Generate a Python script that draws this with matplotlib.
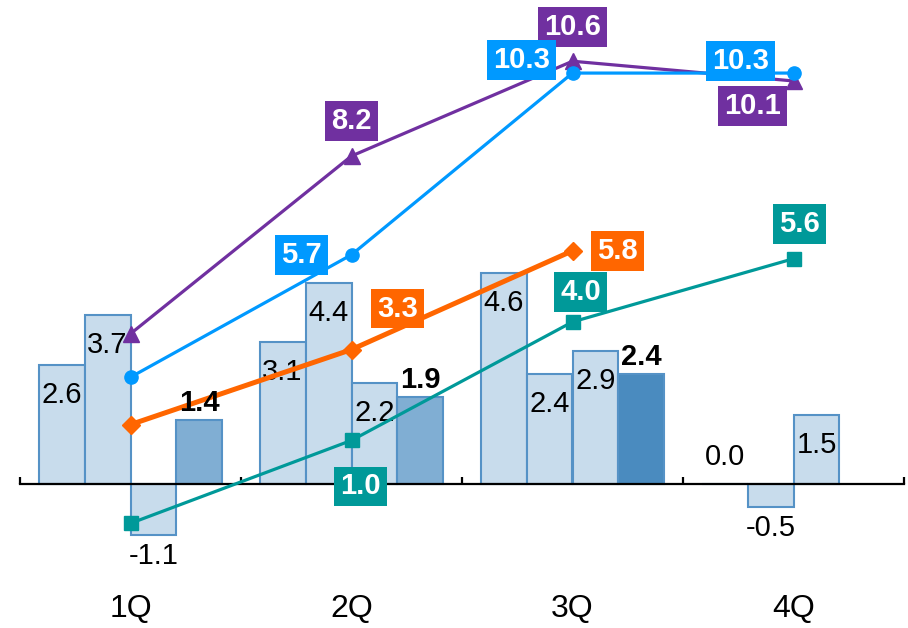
import numpy as np
import matplotlib.pyplot as plt

plt.rcParams['font.family'] = ['Liberation Sans', 'DejaVu Sans']

quarters = ['1Q', '2Q', '3Q', '4Q']

# quarterly values, four bars per quarter (nan = no bar)
bar_a = [2.6, 3.1, 4.6, 0.0]
bar_b = [3.7, 4.4, 2.4, -0.5]
bar_c = [-1.1, 2.2, 2.9, 1.5]
bar_d = [1.4, 1.9, 2.4, np.nan]

# running totals of the same series (secondary scale)
cum_a = [2.6, 5.7, 10.3, 10.3]
cum_b = [3.7, 8.2, 10.6, 10.1]
cum_c = [-1.1, 1.0, 4.0, 5.6]
cum_d = [1.4, 3.3, 5.8, np.nan]

light = '#C8DCEC'
edge = '#5592C6'
dark = ['#80AED3', '#80AED3', '#4A8BBF', '#4A8BBF']

fig = plt.figure(figsize=(9.08, 6.28), dpi=100)
ax = fig.add_axes([20 / 908, 0, 884 / 908, 1])
ax.set_xlim(-0.5, 3.5)
ax.set_ylim(-3.14, 10.57)

x = np.arange(len(quarters))
w = 0.208
offs = (np.arange(4) - 1.5) * w

for k, vals in enumerate([bar_a, bar_b, bar_c]):
    ax.bar(x + offs[k], vals, w, color=light, edgecolor=edge, linewidth=1.5, zorder=2)
ax.bar(x + offs[3], bar_d, w, color=dark, edgecolor=edge, linewidth=1.5, zorder=2)

# pixels per data unit on the bar scale
px = ax.transData.transform((0, 1))[1] - ax.transData.transform((0, 0))[1]

for k, vals in enumerate([bar_a, bar_b, bar_c]):
    for i, v in enumerate(vals):
        if v >= 0:
            dy = max(v * px - 30, 27)
            ax.annotate(f'{v:.1f}', (x[i] + offs[k], 0), xytext=(0, dy),
                        textcoords='offset pixels', ha='center', va='center',
                        fontsize=21, zorder=3)
        else:
            ax.annotate(f'{v:.1f}', (x[i] + offs[k], v), xytext=(0, -21),
                        textcoords='offset pixels', ha='center', va='center',
                        fontsize=21, zorder=3)

# axis line with group dividers
for s in ['top', 'right', 'left']:
    ax.spines[s].set_visible(False)
ax.spines['bottom'].set_position(('data', 0))
ax.spines['bottom'].set_linewidth(1.6)
ax.set_xticks(np.arange(-0.5, 4, 1))
ax.tick_params(axis='x', direction='in', length=5, width=1.6, labelbottom=False)
ax.set_yticks([])
for i, q in enumerate(quarters):
    ax.text(x[i], 0.030, q, transform=ax.get_xaxis_transform(),
            ha='center', va='center', fontsize=23)

# cumulative lines on their own scale
ax2 = ax.twinx()
ax2.set_ylim(-3.75, 12.15)
ax2.axis('off')

lines = [
    (cum_b, '#7030A0', '^', 12, 2.3, [None, (0, 35), (0, 34), (-41, -25)]),
    (cum_a, '#0099FF', 'o', 9.5, 2.3, [None, (-50, 0), (-51, 13), (-53, 12)]),
    (cum_d, '#FF6600', 'D', 9.5, 3.6, [None, (46, 41), (45, 0), None]),
    (cum_c, '#009999', 's', 10, 2.3, [None, (9, -46), (8, 30), (6, 35)]),
]
for vals, col, mk, ms, lw, offsets in lines:
    ax2.plot(x, vals, color=col, marker=mk, markersize=ms, linewidth=lw, zorder=3)
    for i, v in enumerate(vals):
        if offsets[i] is None or np.isnan(v):
            continue
        ax2.annotate(f'{v:.1f}', (x[i], v), xytext=offsets[i],
                     textcoords='offset pixels', ha='center', va='center',
                     fontsize=21, fontweight='bold', color='white', zorder=5,
                     bbox=dict(boxstyle='square,pad=0.2', fc=col, ec='none'))

# bold labels above the darker bars, drawn over the lines
for i, v in enumerate(bar_d):
    if not np.isnan(v):
        ax2.annotate(f'{v:.1f}', (x[i] + offs[3], v), xycoords=ax.transData,
                     xytext=(0, 3), textcoords='offset pixels', ha='center',
                     va='bottom', fontsize=21, fontweight='bold', zorder=4)

fig.savefig('out.png', dpi=100)
